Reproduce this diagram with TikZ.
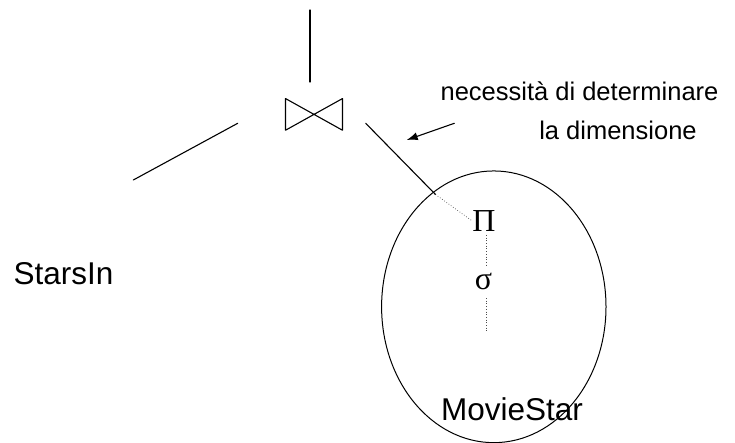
\documentclass[tikz,border=0pt]{standalone}
\usepackage{fontspec}
\setmainfont{Liberation Sans}
\newfontfamily\symfont{Liberation Serif}
\usetikzlibrary{positioning, arrows.meta, shapes.geometric}

\tikzset{
    edge/.style={line width=1.1pt, line cap=round},
    dotedge/.style={line width=0.7pt, dotted, black!70},
    relname/.style={font=\fontsize{31.5}{34}\selectfont, inner sep=0pt, anchor=base},
    opname/.style={font=\symfont\fontsize{32}{34}\selectfont, inner sep=0pt},
    notetext/.style={font=\fontsize{25.5}{28}\selectfont, inner sep=0pt, anchor=base}
}

\begin{document}
\begin{tikzpicture}[x=1pt, y=-1pt]

        \useasboundingbox (0,0) rectangle (735,443);

        \node[minimum width=56.6pt, minimum height=31.3pt, inner sep=0pt] (join) at (314,114.4) {};
        \draw[edge, line join=round] (join.north west) -- (join.south east) -- (join.north east) -- (join.south west) -- cycle;

        \node[draw, ellipse, line width=1pt, minimum width=224.4pt, minimum height=271.7pt, inner sep=0pt] (moviestar) at (493.8,306.8) {};

        \node[opname] (proj) at (484,221) {Π};
        \node[opname] (sel) at (483.5,281.5) {σ};

        \node[relname] (starsin) at (63.5,284) {StarsIn};
        \node[relname] (movielabel) at (512,420.7) {MovieStar};

        \node[notetext] (note1) at (579.5,101) {necessità di determinare};
        \node[notetext] (note2) at (618,140) {la dimensione};

        \coordinate (topend) at (310,10);
        \coordinate (topstart) at (310,82);
        \coordinate (leftstart) at (237.7,123.3);
        \coordinate (leftend) at (133.3,180);
        \coordinate (rightstart) at (365.7,123.3);
        \coordinate (cross) at (435.5,194.5);
        \coordinate (projfoot) at (486,235);
        \coordinate (selhead) at (486,266);
        \coordinate (selfoot) at (486,298);
        \coordinate (scanend) at (486,330.7);
        \coordinate (arrowstart) at (454.3,123.3);
        \coordinate (arrowtip) at (406.7,140);

        \draw[edge] (topstart) -- (topend);
        \draw[edge] (leftstart) -- (leftend);
        \draw[edge] (rightstart) -- (cross);
        \draw[dotedge] (cross) -- (proj.west);
        \draw[dotedge] (projfoot) -- (selhead);
        \draw[dotedge] (selfoot) -- (scanend);
        \draw[edge, -{Latex[length=11pt, width=8pt]}] (arrowstart) -- (arrowtip);

    \end{tikzpicture}
\end{document}
